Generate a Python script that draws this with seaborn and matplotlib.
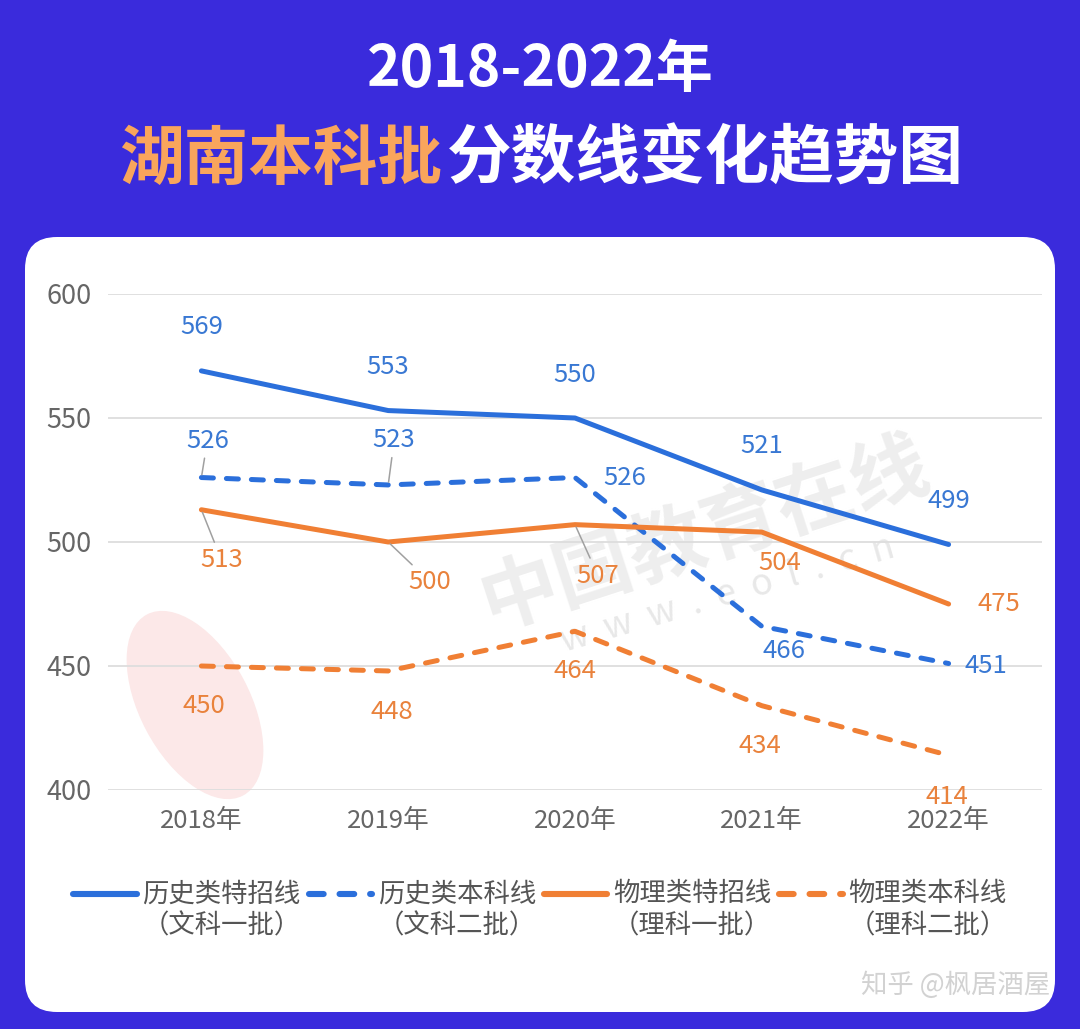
import matplotlib
matplotlib.use('Agg')
import matplotlib.pyplot as plt
import seaborn as sns
import pandas as pd
from matplotlib.patches import FancyBboxPatch, Ellipse
from matplotlib.lines import Line2D
from matplotlib.legend_handler import HandlerLine2D

# ---------------- data ----------------
years = ['2018年', '2019年', '2020年', '2021年', '2022年']
hist_special = [569, 553, 550, 521, 499]   # 历史类特招线
hist_regular = [526, 523, 526, 466, 451]   # 历史类本科线
phys_special = [513, 500, 507, 504, 475]   # 物理类特招线
phys_regular = [450, 448, 464, 434, 414]   # 物理类本科线
series_names = ['历史类特招线\n（文科一批）', '历史类本科线\n（文科二批）',
                '物理类特招线\n（理科一批）', '物理类本科线\n（理科二批）']
y_ticks = [400, 450, 500, 550, 600]

# ---------------- style ----------------
sns.set_theme(style='white')
plt.rcParams['font.family'] = ['Noto Sans CJK SC', 'DejaVu Sans']

BG = '#3A2BDC'
BLUE = '#2B6FDB'
ORANGE = '#F07F34'
BLUE_T = '#3978D3'
ORANGE_T = '#E9823C'
GREY_T = '#666666'

palette = {series_names[0]: BLUE, series_names[1]: BLUE,
           series_names[2]: ORANGE, series_names[3]: ORANGE}
dash_pat = (2.4, 2.6)
dashes = {series_names[0]: '', series_names[1]: dash_pat,
          series_names[2]: '', series_names[3]: dash_pat}

all_values = [hist_special, hist_regular, phys_special, phys_regular]
df = pd.DataFrame({
    'year': years * 4,
    'value': hist_special + hist_regular + phys_special + phys_regular,
    'series': [n for n in series_names for _ in years],
})

W, H = 1080, 1029
fig = plt.figure(figsize=(W / 100, H / 100), dpi=100)
fig.patch.set_facecolor(BG)

# background axes in pixel coordinates
bg = fig.add_axes([0, 0, 1, 1], zorder=0)
bg.set_xlim(0, W)
bg.set_ylim(H, 0)
bg.axis('off')
panel = FancyBboxPatch((25, 237), 1030, 775,
                       boxstyle='round,pad=0,rounding_size=32',
                       facecolor='white', edgecolor='none')
bg.add_patch(panel)

# titles
bg.text(540, 70, '2018-2022年', ha='center', va='center', color='white',
        fontsize=41, fontweight='heavy')
bg.text(442, 160, '湖南本科批', ha='right', va='center', color='#F9A55C',
        fontsize=46.5, fontweight='heavy')
bg.text(447, 160, '分数线变化趋势图', ha='left', va='center', color='white',
        fontsize=46.5, fontweight='heavy')

# watermark
bg.add_patch(Ellipse((195, 705), 110, 205, angle=-28, facecolor='#FCE8E8',
                     edgecolor='none'))
bg.text(705, 535, '中国教育在线', rotation=18, ha='center', va='center',
        fontsize=56, fontweight='bold', color='#EEEEEE')
bg.text(728, 595, 'w  w  w  .  e  o  l  .  c  n', rotation=16, ha='center',
        va='center', fontsize=26, color='#E8E8E8')
bg.text(1050, 985, '知乎 @枫居酒屋', ha='right', va='center', fontsize=19,
        color='#D2D2D2')

# ---------------- main chart ----------------
ax = fig.add_axes([108 / W, 1 - 790 / H, (1042 - 108) / W, (790 - 294) / H],
                  zorder=1)
ax.set_facecolor('none')
sns.lineplot(data=df, x='year', y='value', hue='series', style='series',
             palette=palette, dashes=dashes, linewidth=3.6, legend=False,
             ax=ax, sort=False)
for ln in ax.lines:
    ln.set_solid_capstyle('round')
    ln.set_dash_capstyle('round')
    ln.set_solid_joinstyle('round')

ax.set_xlim(-0.5, len(years) - 0.5)
ax.set_ylim(y_ticks[0], y_ticks[-1])
ax.set_yticks(y_ticks)
ax.set_xlabel('')
ax.set_ylabel('')
for s in ax.spines.values():
    s.set_visible(False)
ax.yaxis.grid(True, color='#DDDDDD', lw=1.3)
ax.xaxis.grid(False)
ax.tick_params(axis='x', length=0, pad=13, labelsize=18.5, labelcolor=GREY_T)
ax.tick_params(axis='y', length=0, pad=12, labelsize=19.5, labelcolor=GREY_T)

# label offsets (pixels: dx right, dy up) and leader flags
offsets = [
    [(0, 44), (0, 44), (0, 43), (0, 44), (0, 43)],
    [(6, 37), (6, 45), (50, 0), (22, -25), (37, -2)],
    [(20, -50), (42, -40), (23, -51), (18, -31), (50, 0)],
    [(2, -40), (4, -41), (0, -40), (-2, -40), (-2, -42)],
]
leaders = [
    [False] * 5,
    [True, True, False, False, False],
    [True, True, True, False, False],
    [False] * 5,
]
txt_colors = [BLUE_T, BLUE_T, ORANGE_T, ORANGE_T]
for si, vals in enumerate(all_values):
    for i, v in enumerate(vals):
        dx, dy = offsets[si][i]
        kw = {}
        if leaders[si][i]:
            kw['arrowprops'] = dict(arrowstyle='-', color='#A0A0A0', lw=1.1,
                                    shrinkA=1, shrinkB=2)
        ax.annotate(str(v), xy=(i, v), xytext=(dx * 0.72, dy * 0.72),
                    textcoords='offset points', ha='center', va='center',
                    fontsize=18.5, color=txt_colors[si], annotation_clip=False,
                    **kw)


# legend: handle aligned with the first text line
class UpHandler(HandlerLine2D):
    def create_artists(self, legend, orig_handle, xdescent, ydescent,
                       width, height, fontsize, trans):
        arts = super().create_artists(legend, orig_handle, xdescent, ydescent,
                                      width, height, fontsize, trans)
        for a in arts:
            if isinstance(a, Line2D):
                a.set_ydata([y + 0.64 * fontsize for y in a.get_ydata()])
        return arts


handles = [Line2D([], [], color=palette[n], lw=4.4,
                  linestyle='-' if dashes[n] == '' else (0, dash_pat),
                  solid_capstyle='round', dash_capstyle='round')
           for n in series_names]
leg = fig.legend(handles, series_names, loc='center', ncol=4,
                 bbox_to_anchor=(0.5, 1 - 910 / H), frameon=False,
                 fontsize=19, handlelength=2.4, handletextpad=0.22,
                 columnspacing=0.3, labelcolor='#555555',
                 handler_map={Line2D: UpHandler()})
for t in leg.get_texts():
    t.set_multialignment('center')
    t.set_linespacing(1.25)

fig.savefig('out.png', dpi=100, facecolor=fig.get_facecolor())
